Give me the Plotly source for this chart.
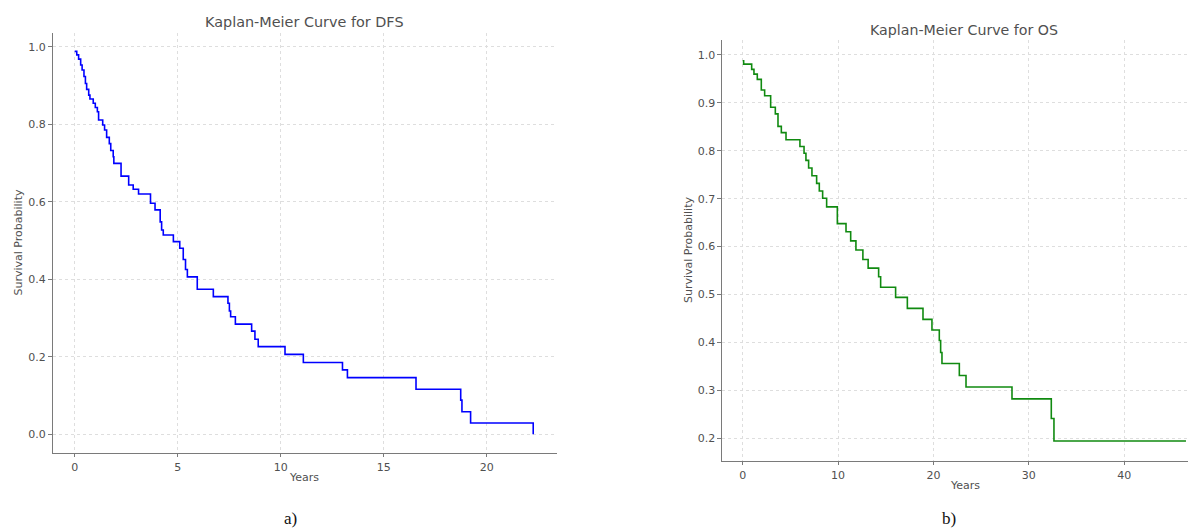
import plotly.graph_objects as go

# ---- Data ----
dfs_years = [0.00, 0.10, 0.19, 0.29, 0.36, 0.45, 0.52, 0.58, 0.68, 0.74, 0.90, 1.00, 1.10, 1.16,
             1.36, 1.45, 1.55, 1.68, 1.75, 1.87, 1.90, 2.25, 2.62, 2.84, 3.10, 3.68, 3.90, 4.15,
             4.22, 4.30, 4.79, 5.10, 5.27, 5.38, 5.47, 5.95, 6.73, 7.44, 7.51, 7.57, 7.80, 8.59,
             8.75, 8.91, 10.21, 11.10, 13.00, 13.24, 16.57, 18.74, 18.80, 19.22, 22.26]
dfs_surv = [0.988, 0.979, 0.968, 0.953, 0.940, 0.923, 0.905, 0.890, 0.875, 0.865, 0.854, 0.843,
            0.832, 0.811, 0.798, 0.785, 0.766, 0.750, 0.732, 0.716, 0.699, 0.666, 0.643, 0.632,
            0.620, 0.596, 0.579, 0.548, 0.527, 0.514, 0.497, 0.480, 0.451, 0.425, 0.406, 0.374,
            0.355, 0.338, 0.318, 0.303, 0.284, 0.266, 0.245, 0.226, 0.206, 0.185, 0.166, 0.146,
            0.116, 0.088, 0.058, 0.029, 0.000]

os_years = [0.00, 0.10, 0.94, 1.18, 1.53, 1.95, 2.30, 2.93, 3.42, 3.70, 4.05, 4.54, 6.00, 6.43,
            6.63, 6.91, 7.26, 7.75, 8.03, 8.38, 8.80, 9.92, 10.83, 11.32, 11.87, 12.60, 13.15,
            14.25, 14.46, 16.03, 17.26, 18.90, 19.84, 20.61, 20.75, 20.89, 22.71, 23.41, 28.23,
            32.35, 32.63, 46.47]
os_surv = [0.988, 0.981, 0.970, 0.960, 0.949, 0.927, 0.915, 0.891, 0.877, 0.851, 0.838, 0.823,
           0.809, 0.795, 0.780, 0.764, 0.748, 0.732, 0.716, 0.701, 0.683, 0.648, 0.631, 0.612,
           0.593, 0.573, 0.555, 0.537, 0.515, 0.494, 0.471, 0.448, 0.426, 0.404, 0.379, 0.356,
           0.331, 0.307, 0.282, 0.241, 0.194, 0.194]

dfs_xticks = [0, 5, 10, 15, 20]
dfs_yticks = [0.0, 0.2, 0.4, 0.6, 0.8, 1.0]
os_xticks = [0, 10, 20, 30, 40]
os_yticks = [0.2, 0.3, 0.4, 0.5, 0.6, 0.7, 0.8, 0.9, 1.0]

# page offset of the plot (browser body margin) is compensated
OFF = 8
W, H = 1196 - OFF, 529 - OFF
FONT = "DejaVu Sans"
TXT = "#505050"
AXC = "#7a7a7a"
GRID = "#dedede"

fig = go.Figure()
fig.add_trace(go.Scatter(x=dfs_years, y=dfs_surv, mode="lines", line_shape="hv",
                         line=dict(color="#0000ff", width=1.6), xaxis="x", yaxis="y",
                         showlegend=False, hoverinfo="skip"))
fig.add_trace(go.Scatter(x=os_years, y=os_surv, mode="lines", line_shape="hv",
                         line=dict(color="#108a10", width=1.6), xaxis="x2", yaxis="y2",
                         showlegend=False, hoverinfo="skip"))

def px_x(p):
    return (p - OFF) / W

def px_y(p):
    return 1 - (p - OFF) / H

common = dict(showline=True, linecolor=AXC, linewidth=1.3, ticks="outside", ticklen=3.5,
              tickwidth=1, tickcolor=AXC, tickfont=dict(family=FONT, size=11, color=TXT),
              showgrid=True, gridcolor=GRID, griddash="dot", gridwidth=0.8, zeroline=False,
              mirror=False, fixedrange=True)

fig.update_layout(
    width=W, height=H, margin=dict(l=0, r=0, t=0, b=0),
    paper_bgcolor="white", plot_bgcolor="white",
    xaxis=dict(domain=[px_x(52.7), px_x(556.7)], range=[-1.068, 23.40], anchor="y",
               tickvals=dfs_xticks, **common),
    yaxis=dict(domain=[px_y(452.7), px_y(33)], range=[-0.0477, 1.0354], anchor="x",
               tickvals=dfs_yticks, tickformat=".1f", **common),
    xaxis2=dict(domain=[px_x(722), 1.0], range=[-2.17, 47.52], anchor="y2",
                tickvals=os_xticks, **common),
    yaxis2=dict(domain=[px_y(460.7), px_y(40)], range=[0.1530, 1.0313], anchor="x2",
                tickvals=os_yticks, tickformat=".1f", **common),
)

def ann(text, x, y, size, angle=0, family=FONT, color=TXT):
    fig.add_annotation(text=text, x=px_x(x), y=px_y(y), xref="paper", yref="paper",
                       showarrow=False, textangle=angle, xanchor="center", yanchor="middle",
                       font=dict(family=family, size=size, color=color))

ann("Kaplan-Meier Curve for DFS", 304, 22, 14.4)
ann("Kaplan-Meier Curve for OS", 964, 30, 14.2)
ann("Survival Probability", 17.5, 243, 11, angle=-90)
ann("Survival Probability", 688, 250, 11, angle=-90)
ann("Years", 304, 477, 11)
ann("Years", 965, 485, 11)
ann("a)", 290, 518, 17, family="Liberation Serif", color="#111111")
ann("b)", 949, 518, 17, family="Liberation Serif", color="#111111")

fig.write_html("out.html")
